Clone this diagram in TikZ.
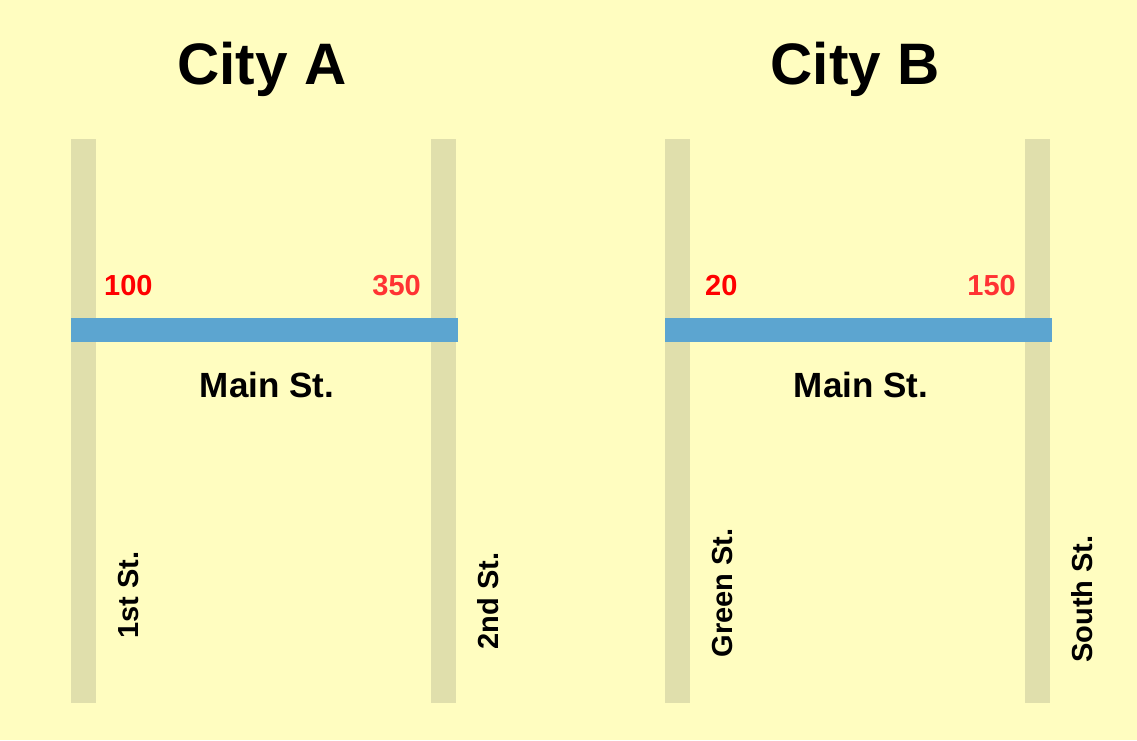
\documentclass[tikz,border=0pt]{standalone}
\usepackage{fontspec}
\setmainfont{Liberation Sans}
\definecolor{bg}{RGB}{255,253,192}
\definecolor{street}{RGB}{224,223,172}
\definecolor{mainst}{RGB}{92,165,208}
\definecolor{redA}{RGB}{255,0,0}
\definecolor{redB}{RGB}{255,51,51}
\begin{document}
\begin{tikzpicture}[x=1pt,y=-1pt,
  title/.style={inner sep=0pt,anchor=base,font=\fontsize{58.5}{58.5}\selectfont\bfseries},
  num/.style={inner sep=0pt,font=\fontsize{29}{29}\selectfont\bfseries},
  mainlabel/.style={inner sep=0pt,anchor=base,font=\fontsize{35}{35}\selectfont\bfseries},
  sidelabel/.style={inner sep=0pt,anchor=base,rotate=90,font=\fontsize{29}{29}\selectfont\bfseries},
  streetbar/.style={fill=street,draw=none},
  mainbar/.style={fill=mainst,draw=none}]
\fill[bg] (0,0) rectangle (1137,740);
\useasboundingbox (0,0) rectangle (1137,740);
% City A
\path[streetbar] (71,139) rectangle (96,703);
\path[streetbar] (431,139) rectangle (456,703);
\path[mainbar] (71,318) rectangle (458,342);
\node[title] (titleA) at (262,84) {City A};
\node[num,anchor=base west,text=redA] (a100) at (104,295) {100};
\node[num,anchor=base east,text=redB] (a350) at (421,295) {350};
\node[mainlabel] (mainA) at (267,397) {Main St.};
\node[sidelabel] (first) at (138,595) {1st St.};
\node[sidelabel] (second) at (498,601) {2nd St.};
% City B
\path[streetbar] (665,139) rectangle (690,703);
\path[streetbar] (1025,139) rectangle (1050,703);
\path[mainbar] (665,318) rectangle (1052,342);
\node[title] (titleB) at (855,84) {City B};
\node[num,anchor=base west,text=redA] (b20) at (705,295) {20};
\node[num,anchor=base east,text=redB] (b150) at (1016,295) {150};
\node[mainlabel] (mainB) at (861,397) {Main St.};
\node[sidelabel] (green) at (732,593) {Green St.};
\node[sidelabel] (south) at (1092,599) {South St.};
\end{tikzpicture}
\end{document}
